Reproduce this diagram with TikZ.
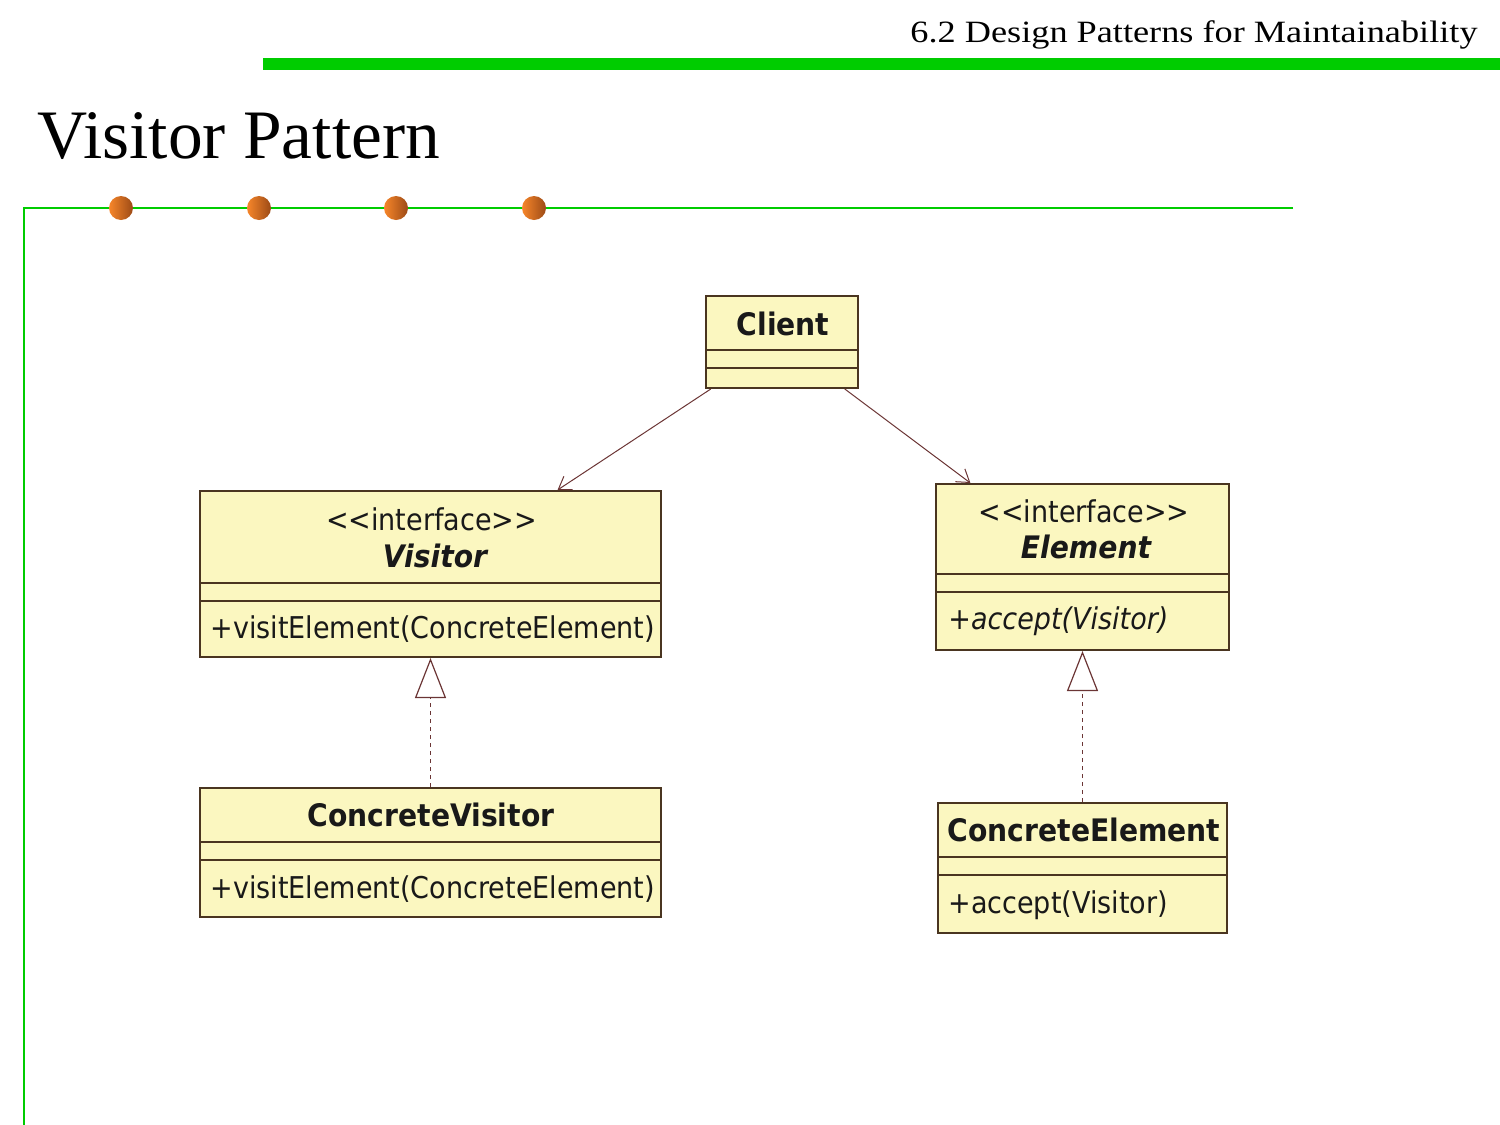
\documentclass[tikz,border=0pt]{standalone}
\usepackage{fontspec}
\setmainfont{Liberation Serif}
\newfontfamily\slidefont[FakeStretch=1.17]{Liberation Serif}
\newfontfamily\umlfont[FakeStretch=0.90]{DejaVu Sans}
\newfontfamily\umlbold[FakeStretch=0.91]{DejaVu Sans}
\usetikzlibrary{arrows.meta}

\definecolor{slidegreen}{HTML}{00CC00}
\definecolor{umlfill}{HTML}{FBF7C0}
\definecolor{umlline}{HTML}{4A3520}
\definecolor{linkline}{HTML}{6B3535}
\definecolor{dotlight}{HTML}{F7862A}
\definecolor{dotdark}{HTML}{9C4A16}

\begin{document}
\begin{tikzpicture}[x=0.5pt,y=-0.5pt,
  umlbox/.style={draw=umlline, line width=1pt, fill=umlfill, inner sep=0pt},
  umlsep/.style={draw=umlline, line width=1pt},
  umltext/.style={font=\umlfont\fontsize{15}{18}\selectfont, inner sep=0pt, text=black!90},
  umlname/.style={umltext, anchor=base, font=\umlbold\bfseries\fontsize{15.5}{18}\selectfont},
  umlabstract/.style={umlname, font=\umlbold\bfseries\itshape\fontsize{15.5}{18}\selectfont},
  assoc/.style={draw=linkline, line width=0.5pt, -{Straight Barb[length=6pt,width=8pt]}},
  realize/.style={draw=linkline, line width=0.6pt, dash pattern=on 2pt off 2pt,
                  -{Triangle[open,length=20pt,width=15.5pt]}},
]
  \useasboundingbox (0,0) rectangle (1500,1125);

  % slide frame
  \node[anchor=base east, inner sep=0pt, font=\slidefont\fontsize{15.5}{18}\selectfont]
    (header) at (1478,42) {6.2 Design Patterns for Maintainability};
  \fill[slidegreen] (263,58) rectangle (1500,70);
  \node[anchor=base west, inner sep=0pt, font=\fontsize{34.7}{40}\selectfont]
    (title) at (37,158) {Visitor Pattern};
  \draw[slidegreen, line width=1.2pt] (1293,208) -- (24,208) -- (24,1125);
  \foreach \x in {121,259,396,534}
    \shade[left color=dotlight, right color=dotdark] (\x,208) circle[radius=6pt];

  %% classes
  \node[umlbox, minimum width=76pt, minimum height=46pt] (client) at (782,342) {};
  \node[umlbox, minimum width=230.5pt, minimum height=83pt] (visitor) at (430.5,574) {};
  \node[umlbox, minimum width=146.5pt, minimum height=83pt] (element) at (1082.5,567) {};
  \node[umlbox, minimum width=230.5pt, minimum height=64.5pt] (cvisitor) at (430.5,852.5) {};
  \node[umlbox, minimum width=144.5pt, minimum height=65pt] (celement) at (1082.5,868) {};

  %% compartments
  \foreach \n/\a/\b in {client/27.5/36.5, visitor/46.5/55.5, element/45.5/54.5,
                        cvisitor/27.5/36.5, celement/27.5/36.5}{
    \draw[umlsep] ([yshift=-\a pt]\n.north west) -- ([yshift=-\a pt]\n.north east);
    \draw[umlsep] ([yshift=-\b pt]\n.north west) -- ([yshift=-\b pt]\n.north east);}

  %% texts
  \node[umlname] (client-name) at (783,335) {Client};
  \node[umltext, anchor=base] (visitor-stereo) at (431.5,530) {<<interface>>};
  \node[umlabstract] (visitor-name) at (435,567) {Visitor};
  \node[umltext, anchor=base west] (visitor-op) at (210,638) {+visitElement(ConcreteElement)};
  \node[umltext, anchor=base] (element-stereo) at (1084,522) {<<interface>>};
  \node[umlabstract] (element-name) at (1086,558) {Element};
  \node[umltext, anchor=base west, font=\umlfont\itshape\fontsize{15}{18}\selectfont]
    (element-op) at (948,629) {+accept(Visitor)};
  \node[umlname] (cvisitor-name) at (431,826) {ConcreteVisitor};
  \node[umltext, anchor=base west] (cvisitor-op) at (210,898) {+visitElement(ConcreteElement)};
  \node[umlname] (celement-name) at (1084,841) {ConcreteElement};
  \node[umltext, anchor=base west] (celement-op) at (948,913) {+accept(Visitor)};

  %% relations
  \draw[assoc] (client) -- (visitor);
  \draw[assoc] (client) -- (element);
  \draw[realize] (cvisitor) -- (visitor);
  \draw[realize] (celement) -- (element);
\end{tikzpicture}
\end{document}
